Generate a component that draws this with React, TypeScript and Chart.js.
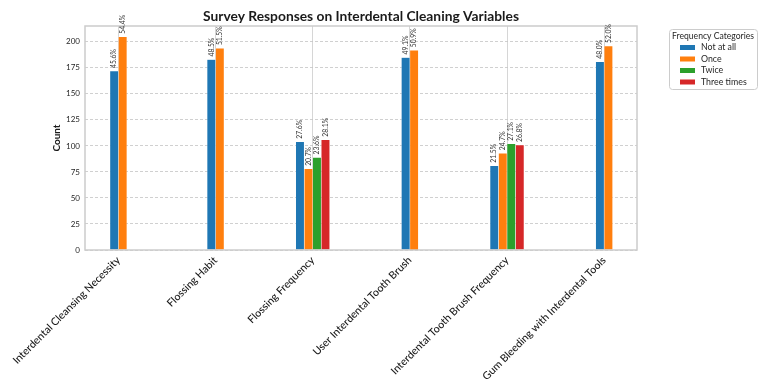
import React, { useEffect, useRef } from "react";
import { Chart, registerables } from "chart.js";

Chart.register(...registerables);

const categories = [
  "Interdental Cleansing Necessity",
  "Flossing Habit",
  "Flossing Frequency",
  "User Interdental Tooth Brush",
  "Interdental Tooth Brush Frequency",
  "Gum Bleeding with Interdental Tools",
];
const seriesNames = ["Not at all", "Once", "Twice", "Three times"];
const notAtAll = [172, 183, 104, 185, 81, 181];
const once = [205, 194, 78, 192, 93, 196];
const twice = [null, null, 89, null, 102, null];
const threeTimes = [null, null, 106, null, 101, null];
const yTicks = [0, 25, 50, 75, 100, 125, 150, 175, 200];
const colors = ["#1f77b4", "#ff7f0e", "#2ca02c", "#d62728"];

const chartTitle = "Survey Responses on Interdental Cleaning Variables";
const legendTitle = "Frequency Categories";
const yTitle = "Count";

const FONT = "Lato, 'DejaVu Sans', sans-serif";

const allSeries = [notAtAll, once, twice, threeTimes];
const totals = categories.map((_, i) =>
  allSeries.reduce((s, arr) => s + (arr[i] == null ? 0 : (arr[i] as number)), 0)
);

export default function App() {
  const ref = useRef<HTMLCanvasElement>(null);
  useEffect(() => {
    document.body.style.margin = "0";
    const canvas = ref.current!;
    const framePlugin = {
      id: "frame",
      afterDatasetsDraw(chart: any) {
        const { ctx, chartArea: a } = chart;
        ctx.save();
        ctx.strokeStyle = "#cccccc";
        ctx.lineWidth = 1.5;
        ctx.strokeRect(a.left, a.top, a.right - a.left, a.bottom - a.top);
        ctx.restore();
        // percentage labels
        ctx.save();
        ctx.fillStyle = "#333333";
        ctx.font = `6.8px ${FONT}`;
        ctx.textAlign = "left";
        ctx.textBaseline = "middle";
        chart.data.datasets.forEach((ds: any, di: number) => {
          const meta = chart.getDatasetMeta(di);
          meta.data.forEach((el: any, i: number) => {
            const v = allSeries[di][i];
            if (v == null) return;
            const txt = ((v as number) / totals[i] * 100).toFixed(1) + "%";
            ctx.save();
            ctx.translate(el.x, el.y - 3);
            ctx.rotate(-Math.PI / 2);
            ctx.fillText(txt, 0, 0);
            ctx.restore();
          });
        });
        ctx.restore();
      },
      afterDraw(chart: any) {
        const { ctx, chartArea: a } = chart;
        ctx.save();
        ctx.fillStyle = "#1a1a1a";
        ctx.font = `bold 13.8px ${FONT}`;
        ctx.textAlign = "center";
        ctx.textBaseline = "middle";
        ctx.fillText(chartTitle, (a.left + a.right) / 2, 17);
        // legend
        const lx = 669, ly = 29, lw = 88, lh = 60;
        ctx.fillStyle = "#ffffff";
        ctx.strokeStyle = "#cccccc";
        ctx.lineWidth = 1;
        ctx.beginPath();
        (ctx as any).roundRect(lx + 0.5, ly + 0.5, lw, lh, 3);
        ctx.fill();
        ctx.stroke();
        ctx.fillStyle = "#262626";
        ctx.font = `8.6px ${FONT}`;
        ctx.textAlign = "center";
        ctx.fillText(legendTitle, lx + lw / 2, ly + 7.5);
        ctx.font = `8.8px ${FONT}`;
        ctx.textAlign = "left";
        seriesNames.forEach((name, i) => {
          const cy = ly + 18.5 + i * 11.5;
          ctx.fillStyle = colors[i];
          ctx.fillRect(lx + 11, cy - 2.5, 15, 5);
          ctx.fillStyle = "#262626";
          ctx.fillText(name, lx + 32, cy);
        });
        ctx.restore();
      },
    };

    const chart = new Chart(canvas, {
      type: "bar",
      data: {
        datasets: allSeries.map((arr, di) => ({
          label: seriesNames[di],
          data: arr.map((v, i) => ({ x: i, y: v })),
          backgroundColor: colors[di],
          borderColor: "rgba(255,255,255,0.35)",
          borderWidth: 0.6,
          barThickness: 8.5,
        })),
      },
      options: {
        responsive: false,
        animation: false,
        skipNull: true,
        layout: { padding: { top: 26, right: 126, left: 0, bottom: 0 } },
        plugins: {
          legend: { display: false },
          title: { display: false },
          tooltip: { enabled: false },
        },
        scales: {
          x: {
            type: "linear",
            min: -0.344,
            max: 5.338,
            offset: false,
            bounds: "data",
            afterBuildTicks: (s: any) => {
              s.ticks = categories.map((_, i) => ({ value: i }));
            },
            afterFit: (s: any) => {
              s.height = 136;
            },
            grid: { color: "#d6d6d6", lineWidth: 1, drawTicks: false, offset: false },
            border: { display: false },
            ticks: {
              autoSkip: false,
              minRotation: 45,
              maxRotation: 45,
              padding: 4,
              color: "#1a1a1a",
              font: { family: FONT, size: 10.6, weight: "500" },
              callback: (v: any) => categories[v as number],
            },
          },
          y: {
            min: 0,
            max: 215.25,
            afterBuildTicks: (s: any) => {
              s.ticks = yTicks.map((v) => ({ value: v }));
            },
            afterFit: (s: any) => {
              s.width = 85;
            },
            grid: { color: "#c4c4c4", lineWidth: 0.8, drawTicks: false },
            border: { display: false, dash: [3, 2] },
            ticks: {
              padding: 5,
              color: "#262626",
              font: { family: FONT, size: 8 },
            },
            title: {
              display: true,
              text: yTitle,
              color: "#1a1a1a",
              font: { family: FONT, size: 10, weight: "bold" },
              padding: { top: 51, bottom: 0 },
            },
          },
        },
      },
      plugins: [framePlugin],
    } as any);
    return () => chart.destroy();
  }, []);
  return <canvas ref={ref} width={763} height={386} style={{ display: "block" }} />;
}
